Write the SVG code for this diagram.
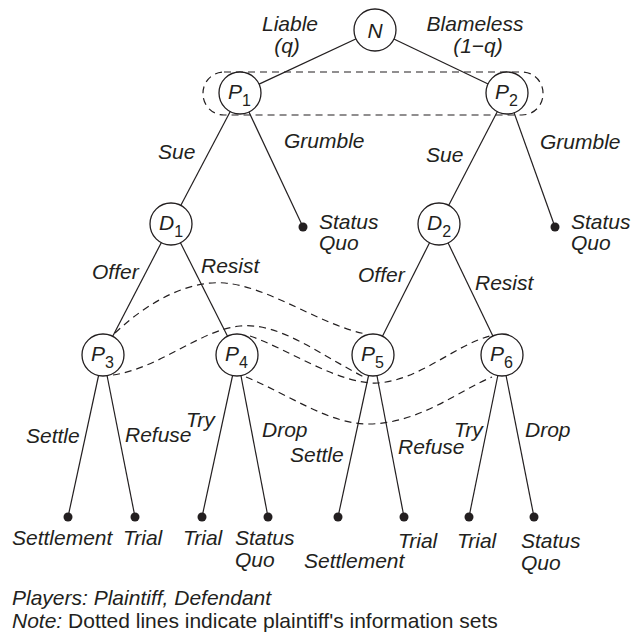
<svg xmlns="http://www.w3.org/2000/svg" width="631" height="643" viewBox="0 0 631 643">
<style>
.e{stroke:#231f20;stroke-width:1.2;fill:none}
.d{stroke:#231f20;stroke-width:1.2;fill:none;stroke-dasharray:7 5}
.n{fill:#fff;stroke:#231f20;stroke-width:1.3}
.t{font-family:"Liberation Sans",Arial,sans-serif;font-size:21px;font-style:italic;fill:#231f20}
.s{font-style:normal;font-size:16px}
.m{text-anchor:middle}
.leaf{fill:#231f20}
</style>
<rect width="631" height="643" fill="#fff"/>
<g id="connectors">
<line class="e" x1="375" y1="30" x2="240" y2="93"/>
<line class="e" x1="375" y1="30" x2="507" y2="93"/>
<line class="e" x1="240" y1="93" x2="171" y2="224"/>
<line class="e" x1="240" y1="93" x2="303" y2="227"/>
<line class="e" x1="507" y1="93" x2="439" y2="224"/>
<line class="e" x1="507" y1="93" x2="555" y2="227"/>
<line class="e" x1="171" y1="224" x2="103" y2="355"/>
<line class="e" x1="171" y1="224" x2="237" y2="355"/>
<line class="e" x1="439" y1="224" x2="373" y2="355"/>
<line class="e" x1="439" y1="224" x2="502" y2="355"/>
<line class="e" x1="103" y1="355" x2="68" y2="517"/>
<line class="e" x1="103" y1="355" x2="135" y2="517"/>
<line class="e" x1="237" y1="355" x2="202" y2="517"/>
<line class="e" x1="237" y1="355" x2="268" y2="517"/>
<line class="e" x1="373" y1="355" x2="338" y2="517"/>
<line class="e" x1="373" y1="355" x2="404" y2="517"/>
<line class="e" x1="502" y1="355" x2="469" y2="517"/>
<line class="e" x1="502" y1="355" x2="534" y2="517"/>
</g>
<g id="info-sets">
<rect class="d" x="203" y="72" width="340" height="43" rx="21" ry="21"/>
<path class="d" d="M115,333 C150,300 190,280 225,283 C270,287 320,325 366,334"/>
<path class="d" d="M113,375 C160,368 200,330 240,326 C280,322 320,355 366,378"/>
<path class="d" d="M250,336 C290,350 340,385 378,383 C420,380 455,345 490,336"/>
<path class="d" d="M246,377 C290,395 330,425 370,424 C420,423 460,390 492,377"/>
</g>
<g id="N"><circle class="n" cx="375" cy="30" r="21"/><text class="t m" x="375" y="38">N</text></g>
<g id="P1"><circle class="n" cx="240" cy="93" r="21"/><text class="t" x="228" y="99">P<tspan class="s" dy="7">1</tspan></text></g>
<g id="P2"><circle class="n" cx="507" cy="93" r="21"/><text class="t" x="495" y="99">P<tspan class="s" dy="7">2</tspan></text></g>
<g id="D1"><circle class="n" cx="171" cy="224" r="21"/><text class="t" x="159" y="230">D<tspan class="s" dy="7">1</tspan></text></g>
<g id="D2"><circle class="n" cx="439" cy="224" r="21"/><text class="t" x="427" y="230">D<tspan class="s" dy="7">2</tspan></text></g>
<g id="P3"><circle class="n" cx="103" cy="355" r="21"/><text class="t" x="91" y="361">P<tspan class="s" dy="7">3</tspan></text></g>
<g id="P4"><circle class="n" cx="237" cy="355" r="21"/><text class="t" x="225" y="361">P<tspan class="s" dy="7">4</tspan></text></g>
<g id="P5"><circle class="n" cx="373" cy="355" r="21"/><text class="t" x="361" y="361">P<tspan class="s" dy="7">5</tspan></text></g>
<g id="P6"><circle class="n" cx="502" cy="355" r="21"/><text class="t" x="490" y="361">P<tspan class="s" dy="7">6</tspan></text></g>
<g id="SQ1"><circle class="leaf" cx="303" cy="227" r="4.5"/><text class="t" x="319" y="229">Status</text><text class="t" x="319" y="250">Quo</text></g>
<g id="SQ2"><circle class="leaf" cx="555" cy="227" r="4.5"/><text class="t" x="571" y="229">Status</text><text class="t" x="571" y="250">Quo</text></g>
<g id="L1"><circle class="leaf" cx="68" cy="517" r="4.5"/><text class="t" x="12" y="545">Settlement</text></g>
<g id="L2"><circle class="leaf" cx="135" cy="517" r="4.5"/><text class="t" x="123" y="545">Trial</text></g>
<g id="L3"><circle class="leaf" cx="202" cy="517" r="4.5"/><text class="t" x="183" y="545">Trial</text></g>
<g id="L4"><circle class="leaf" cx="268" cy="517" r="4.5"/><text class="t" x="235" y="545">Status</text><text class="t" x="235" y="567">Quo</text></g>
<g id="L5"><circle class="leaf" cx="338" cy="517" r="4.5"/><text class="t" x="304" y="568">Settlement</text></g>
<g id="L6"><circle class="leaf" cx="404" cy="517" r="4.5"/><text class="t" x="398" y="548">Trial</text></g>
<g id="L7"><circle class="leaf" cx="469" cy="517" r="4.5"/><text class="t" x="457" y="548">Trial</text></g>
<g id="L8"><circle class="leaf" cx="534" cy="517" r="4.5"/><text class="t" x="521" y="548">Status</text><text class="t" x="521" y="570">Quo</text></g>
<g id="labels">
<text class="t m" x="290" y="31">Liable</text>
<text class="t m" x="287" y="53">(q)</text>
<text class="t m" x="475" y="31">Blameless</text>
<text class="t m" x="478" y="53">(1−q)</text>
<text class="t" x="158" y="159">Sue</text>
<text class="t" x="284" y="148">Grumble</text>
<text class="t" x="426" y="162">Sue</text>
<text class="t" x="540" y="149">Grumble</text>
<text class="t" x="92" y="279">Offer</text>
<text class="t" x="201" y="273">Resist</text>
<text class="t" x="358" y="282">Offer</text>
<text class="t" x="475" y="290">Resist</text>
<text class="t" x="26" y="443">Settle</text>
<text class="t" x="125" y="442">Refuse</text>
<text class="t" x="186" y="427">Try</text>
<text class="t" x="262" y="437">Drop</text>
<text class="t" x="290" y="462">Settle</text>
<text class="t" x="398" y="454">Refuse</text>
<text class="t" x="454" y="437">Try</text>
<text class="t" x="525" y="437">Drop</text>
</g>
<g id="legend">
<text class="t" x="12" y="605">Players: Plaintiff, Defendant</text>
<text class="t" x="12" y="628">Note:<tspan style="font-style:normal"> Dotted lines indicate plaintiff's information sets</tspan></text>
</g>
</svg>
